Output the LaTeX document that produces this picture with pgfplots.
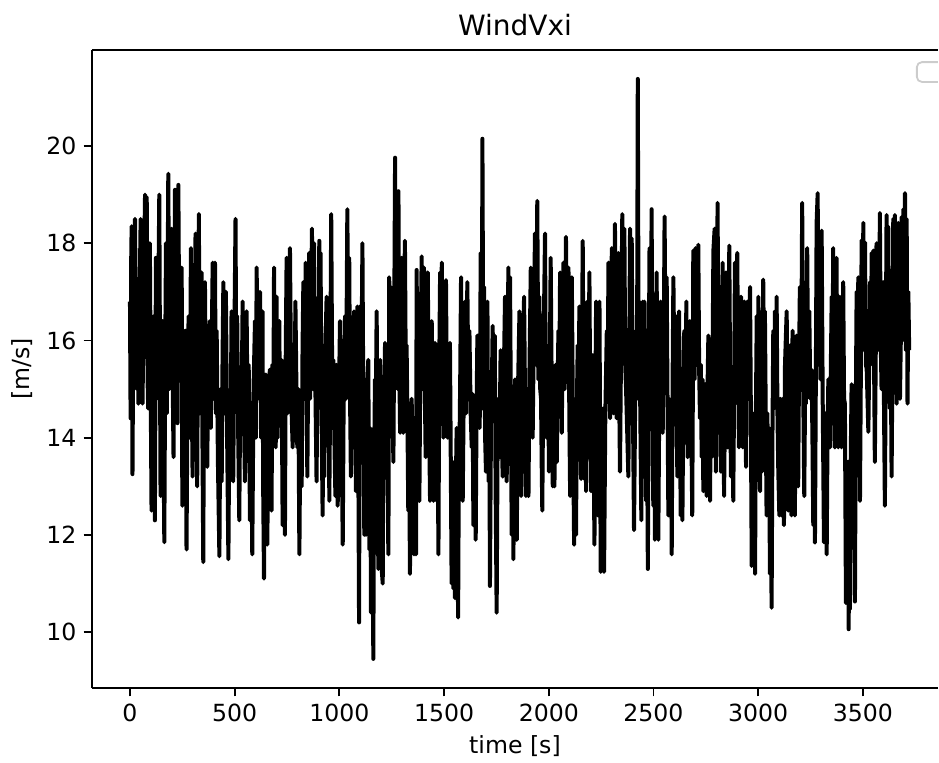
\documentclass[border=0pt]{standalone}
\usepackage{fontspec}
\setmainfont{DejaVu Sans}
\usepackage{pgfplots}
\pgfplotsset{compat=1.18}

\begin{document}
\begin{tikzpicture}
\begin{axis}[
    width=423pt, height=319pt, scale only axis,
    xmin=-181.5, xmax=3858.6,
    ymin=8.85, ymax=21.975,
    xtick={0,500,...,3500},
    ytick={10,12,...,20},
    axis lines*=left,
    axis line style={line width=0.96pt, -},
    tick align=outside,
    major tick length=4.2pt,
    every tick/.style={line width=0.96pt, black},
    tick label style={font=\fontsize{11.8}{14}\selectfont},
    /pgf/number format/assume math mode=true,
    /pgf/number format/1000 sep={},
    title={WindVxi},
    every axis title shift=0pt,
    title style={font=\fontsize{14}{17}\selectfont, at={(rel axis cs:0.5,1.0384)}, anchor=center},
    xlabel={time [s]},
    xlabel style={font=\fontsize{11.8}{14}\selectfont, at={(rel axis cs:0.5,-0.0905)}, anchor=center},
    ylabel={[m/s]},
    ylabel style={font=\fontsize{11.8}{14}\selectfont, at={(rel axis cs:-0.0827,0.5)}, anchor=center},
]
\coordinate (bbA) at (rel axis cs:-0.1087,-0.116);
\coordinate (bbB) at (rel axis cs:1.0012,1.0784);
\addplot[black, line width=2pt, line join=round, no markers] coordinates {
(0,16.8) (3,14.4) (6,17.7) (8,18.35) (12,13.25) (16,16.5) (20,15.0) (24,18.5) (30,15.5) (36,17.0)
(40,14.7) (45,16.6) (51,18.5) (56,15.8) (60,14.7) (66,17.2) (72,19.0) (76,16.0) (80,18.95) (84,15.2)
(87,14.6) (91,16.8) (95,18.0) (99,15.0) (103,12.5) (108,15.4) (113,16.5) (119,12.3) (124,17.7) (128,14.8)
(134,16.2) (140,19.0) (146,12.8) (151,15.6) (156,16.4) (160,14.0) (164,11.85) (168,15.5) (172,18.0) (176,14.5)
(183,19.43) (188,15.0) (193,17.0) (199,18.3) (204,15.2) (208,13.6) (212,16.5) (215,19.1) (219,15.0) (223,17.0)
(227,14.3) (231,19.2) (236,15.5) (241,16.8) (247,17.5) (250,12.6) (255,15.3) (262,13.5) (266,16.2) (270,11.7)
(275,15.0) (280,16.5) (286,14.0) (291,17.9) (295,15.0) (299,13.2) (304,16.0) (309,14.5) (313,18.2) (317,15.2)
(321,13.0) (325,16.3) (329,18.6) (333,14.5) (337,16.5) (342,17.4) (346,14.0) (350,11.44) (354,15.5) (358,17.2)
(363,14.6) (369,13.4) (375,16.0) (382,16.4) (386,14.2) (390,15.8) (395,17.6) (400,14.8) (406,17.6) (410,14.5)
(414,16.2) (420,13.5) (427,11.56) (432,15.0) (438,13.1) (442,15.6) (446,17.2) (452,14.5) (458,17.0) (464,14.0)
(470,11.5) (475,14.8) (480,13.5) (485,16.6) (489,14.5) (493,13.1) (498,15.8) (504,18.5) (508,15.0) (512,16.5)
(517,14.0) (522,12.3) (527,15.2) (532,14.2) (538,16.8) (543,14.8) (549,13.1) (553,15.4) (557,16.6) (562,14.2)
(567,15.5) (573,12.3) (578,14.5) (584,11.6) (590,15.0) (597,16.4) (601,14.0) (605,17.5) (610,14.8) (615,15.8)
(621,17.0) (626,14.0) (633,16.6) (636,13.0) (640,11.1) (645,15.0) (649,15.3) (653,13.5) (656,11.8) (661,14.8)
(668,15.4) (672,13.2) (676,12.5) (680,15.5) (684,14.0) (688,17.5) (692,14.8) (696,13.8) (700,16.9) (705,14.0)
(709,15.2) (713,16.4) (716,14.6) (719,14.3) (724,15.6) (729,12.2) (734,15.0) (740,12.0) (744,15.8) (748,17.7)
(752,14.5) (757,15.8) (764,17.9) (770,14.8) (777,13.8) (782,15.4) (786,14.6) (790,16.8) (795,15.0) (799,13.8)
(804,15.0) (809,11.6) (814,14.5) (820,13.0) (824,15.8) (828,17.2) (833,14.8) (839,17.6) (843,15.0) (847,13.2)
(852,16.0) (856,17.8) (860,14.8) (864,16.2) (869,18.3) (874,15.0) (879,18.0) (884,15.5) (891,13.1) (896,15.8)
(900,14.6) (904,18.05) (907,15.5) (910,17.8) (915,14.4) (920,12.4) (924,15.0) (928,13.2) (933,15.8) (939,16.9)
(944,14.5) (948,15.5) (952,12.7) (956,15.0) (961,18.6) (966,15.0) (971,15.6) (976,14.0) (981,12.8) (986,15.5)
(992,12.6) (997,14.6) (1003,16.4) (1008,14.8) (1012,13.5) (1016,11.8) (1020,14.5) (1027,16.5) (1032,14.8) (1038,18.7)
(1043,15.5) (1047,17.7) (1051,14.8) (1055,13.2) (1060,15.6) (1065,14.4) (1070,16.6) (1075,14.6) (1079,12.9) (1083,15.0)
(1086,16.7) (1090,14.0) (1094,10.2) (1098,16.7) (1103,14.5) (1106,15.8) (1110,18.0) (1115,14.2) (1119,12.0) (1123,14.8)
(1127,12.0) (1132,15.0) (1138,15.6) (1143,11.7) (1147,14.2) (1151,10.4) (1156,13.8) (1159,12.5) (1162,9.45) (1166,13.5)
(1170,15.2) (1174,14.6) (1178,16.6) (1182,14.0) (1186,11.3) (1190,14.5) (1195,15.6) (1199,13.0) (1202,11.3) (1207,11.0)
(1210,15.2) (1214,14.0) (1218,15.95) (1222,14.4) (1226,15.5) (1230,13.0) (1234,11.6) (1238,17.3) (1242,15.0) (1246,17.1)
(1250,16.0) (1254,14.5) (1258,13.5) (1262,16.5) (1266,19.76) (1270,15.5) (1274,16.2) (1278,15.0) (1282,19.07) (1286,15.5)
(1290,14.1) (1293,16.5) (1297,17.7) (1301,15.0) (1305,14.1) (1309,16.8) (1313,18.05) (1317,15.4) (1321,15.9) (1325,14.4)
(1329,12.5) (1333,14.0) (1337,11.2) (1341,14.0) (1345,14.8) (1350,13.8) (1356,11.6) (1360,14.3) (1366,11.6) (1369,17.45)
(1373,14.5) (1377,15.8) (1382,12.7) (1386,15.2) (1389,16.3) (1393,17.73) (1398,15.0) (1404,17.5) (1408,15.0) (1412,13.6)
(1416,15.5) (1422,17.4) (1428,14.5) (1433,12.7) (1437,15.0) (1441,16.4) (1445,14.6) (1449,12.7) (1453,14.8) (1457,15.95)
(1461,14.2) (1465,12.7) (1469,14.5) (1473,11.6) (1477,15.5) (1481,17.4) (1485,15.2) (1489,17.6) (1493,15.0) (1497,14.0)
(1502,15.5) (1509,17.24) (1513,15.0) (1517,14.0) (1522,15.6) (1528,15.95) (1532,13.5) (1536,11.0) (1540,13.0) (1544,10.9)
(1548,13.5) (1552,10.7) (1556,13.0) (1560,14.2) (1564,12.0) (1567,10.3) (1570,13.0) (1573,13.6) (1577,15.2) (1581,17.3)
(1585,14.0) (1589,12.7) (1594,15.0) (1600,16.8) (1605,14.5) (1611,17.2) (1616,15.0) (1621,16.2) (1627,14.5) (1632,13.8)
(1636,14.9) (1640,12.2) (1645,14.5) (1651,11.9) (1655,14.5) (1659,16.1) (1662,14.8) (1665,15.3) (1670,14.2) (1675,17.8)
(1680,14.6) (1683,20.15) (1687,15.5) (1691,17.1) (1696,14.0) (1700,13.3) (1704,15.5) (1707,16.8) (1710,14.0) (1713,13.1)
(1716,14.6) (1719,10.95) (1724,14.3) (1728,15.0) (1732,16.3) (1737,14.5) (1742,16.1) (1746,13.0) (1751,10.4) (1755,13.5)
(1759,14.8) (1764,13.6) (1770,15.8) (1775,14.0) (1780,13.2) (1785,15.2) (1791,16.9) (1795,14.8) (1799,13.1) (1803,15.5)
(1807,17.5) (1811,14.8) (1815,17.3) (1819,14.5) (1823,12.0) (1827,15.0) (1831,11.5) (1835,14.0) (1839,15.2) (1843,14.0)
(1847,11.9) (1853,15.0) (1860,16.6) (1864,14.5) (1868,12.8) (1874,15.2) (1882,16.9) (1887,14.6) (1891,12.8) (1897,15.0)
(1903,12.8) (1908,15.5) (1914,17.5) (1919,15.0) (1923,14.0) (1928,16.0) (1934,18.2) (1940,15.5) (1945,18.87) (1950,15.2)
(1955,16.9) (1959,15.0) (1963,14.8) (1966,13.5) (1969,12.5) (1974,15.5) (1982,18.2) (1986,15.0) (1990,14.0) (1996,15.5)
(2001,13.3) (2005,15.5) (2009,17.7) (2014,15.0) (2019,13.0) (2023,15.2) (2027,13.0) (2032,15.5) (2038,13.5) (2042,15.0)
(2046,16.2) (2050,15.0) (2054,17.4) (2058,15.0) (2062,14.1) (2066,16.0) (2070,17.6) (2076,15.0) (2082,18.13) (2088,15.5)
(2094,17.5) (2098,14.5) (2102,12.8) (2106,15.0) (2110,17.3) (2115,14.5) (2121,11.8) (2126,14.0) (2130,12.0) (2134,14.6)
(2138,15.9) (2142,14.5) (2146,16.7) (2150,14.8) (2154,13.15) (2158,15.5) (2162,18.05) (2166,15.0) (2170,13.15) (2174,15.2)
(2178,12.9) (2181,15.0) (2184,16.8) (2189,14.8) (2194,17.4) (2198,14.5) (2202,12.9) (2206,15.3) (2210,15.7) (2214,14.0)
(2218,11.8) (2222,14.5) (2226,16.8) (2230,14.2) (2234,12.4) (2238,14.5) (2242,16.8) (2245,14.0) (2248,11.24) (2253,13.5)
(2258,14.6) (2264,11.24) (2270,14.5) (2277,16.2) (2281,15.0) (2285,17.6) (2289,15.2) (2293,14.4) (2297,16.0) (2301,17.9)
(2305,15.0) (2309,14.5) (2313,16.5) (2316,18.4) (2320,15.0) (2324,14.4) (2328,16.2) (2332,17.8) (2336,15.0) (2340,13.3)
(2345,15.8) (2351,18.6) (2356,16.0) (2361,18.3) (2365,15.5) (2369,15.0) (2374,14.2) (2380,13.2) (2384,15.5) (2388,18.3)
(2392,15.8) (2396,18.1) (2401,15.0) (2407,12.1) (2412,14.5) (2417,16.2) (2421,14.8) (2425,21.38) (2429,15.5) (2433,16.8)
(2437,14.5) (2442,12.3) (2446,15.0) (2449,16.8) (2453,14.8) (2457,16.8) (2461,15.0) (2465,12.7) (2469,14.5) (2473,11.3)
(2477,15.0) (2481,17.9) (2486,14.5) (2491,18.7) (2495,15.0) (2499,12.6) (2503,14.5) (2507,11.9) (2511,15.0) (2515,17.4)
(2519,14.5) (2523,11.9) (2528,15.0) (2534,16.8) (2539,15.0) (2544,14.1) (2549,16.0) (2553,18.55) (2558,15.5) (2563,17.3)
(2567,14.8) (2571,12.4) (2575,14.8) (2579,13.6) (2583,14.5) (2587,11.6) (2591,15.0) (2595,17.3) (2600,15.2) (2606,16.5)
(2610,14.6) (2614,13.2) (2618,15.3) (2622,16.6) (2626,14.5) (2630,12.4) (2634,14.6) (2638,12.3) (2643,15.0) (2647,16.2)
(2652,14.8) (2657,16.8) (2660,14.8) (2663,13.6) (2668,15.3) (2674,16.4) (2680,14.6) (2685,12.4) (2688,15.0) (2690,17.85)
(2696,15.2) (2701,17.9) (2707,15.5) (2714,17.97) (2718,15.4) (2722,14.4) (2726,15.5) (2730,13.6) (2734,15.2) (2738,12.9)
(2742,15.0) (2746,15.1) (2750,14.0) (2754,12.8) (2758,15.0) (2762,16.1) (2766,14.5) (2770,12.7) (2774,15.0) (2778,13.6)
(2782,15.5) (2786,17.85) (2792,18.3) (2795,15.0) (2798,13.3) (2802,15.8) (2806,18.83) (2810,15.5) (2814,15.0) (2818,14.8)
(2822,13.3) (2826,15.5) (2830,17.6) (2834,15.0) (2837,12.8) (2842,15.0) (2846,17.4) (2850,15.0) (2854,13.8) (2858,15.8)
(2862,17.95) (2866,15.0) (2870,13.2) (2876,14.8) (2881,12.7) (2885,15.0) (2889,17.6) (2895,15.5) (2900,17.8) (2904,15.5)
(2908,13.8) (2913,15.2) (2918,16.9) (2922,14.8) (2926,13.8) (2930,15.2) (2934,16.8) (2938,14.8) (2942,13.4) (2945,15.5)
(2948,16.8) (2954,14.8) (2961,17.1) (2965,14.5) (2969,11.36) (2974,14.0) (2980,14.5) (2985,11.2) (2989,14.5) (2993,16.5)
(2997,15.0) (3001,16.9) (3005,14.8) (3009,12.9) (3013,15.0) (3018,13.3) (3021,15.5) (3024,17.25) (3028,15.5) (3032,16.6)
(3036,14.5) (3040,12.4) (3044,14.5) (3048,12.4) (3052,14.2) (3056,11.2) (3060,13.0) (3064,10.5) (3068,14.0) (3072,16.2)
(3076,14.6) (3080,16.6) (3084,14.8) (3088,16.9) (3092,14.5) (3096,13.3) (3101,12.4) (3106,14.8) (3112,12.4) (3117,14.8)
(3123,12.2) (3128,15.5) (3136,16.6) (3140,14.5) (3144,12.5) (3148,14.5) (3152,15.9) (3156,14.0) (3159,12.4) (3164,16.2)
(3169,14.5) (3175,12.4) (3179,14.8) (3183,16.1) (3187,14.4) (3191,13.0) (3195,15.5) (3199,17.1) (3205,15.0) (3210,18.83)
(3215,15.0) (3220,12.8) (3224,15.0) (3228,14.7) (3231,15.8) (3234,17.9) (3239,15.0) (3244,16.6) (3249,14.8) (3255,15.4)
(3259,14.0) (3263,12.2) (3267,14.5) (3271,11.84) (3275,15.0) (3279,18.42) (3284,19.03) (3288,15.5) (3292,17.6) (3297,15.2)
(3303,18.26) (3308,14.8) (3314,11.85) (3320,14.5) (3327,11.6) (3331,14.0) (3335,15.2) (3339,14.6) (3343,13.8) (3347,15.5)
(3351,16.9) (3355,15.2) (3358,17.9) (3362,15.0) (3366,13.8) (3370,15.5) (3374,17.7) (3378,15.0) (3382,13.8) (3386,15.5)
(3390,16.9) (3394,15.0) (3398,13.8) (3402,15.5) (3406,17.2) (3410,14.8) (3414,14.7) (3419,10.6) (3422,13.0) (3425,10.87)
(3428,13.5) (3432,10.06) (3435,12.5) (3438,10.47) (3442,13.6) (3446,15.1) (3450,14.0) (3454,12.4) (3458,14.0) (3462,10.63)
(3466,14.5) (3470,17.0) (3474,15.5) (3478,17.3) (3482,15.0) (3486,12.7) (3490,15.2) (3494,18.06) (3498,16.0) (3502,18.42)
(3506,15.8) (3510,18.02) (3514,15.5) (3518,15.42) (3522,14.8) (3526,14.12) (3530,15.5) (3534,17.2) (3538,15.8) (3542,17.8)
(3546,15.5) (3550,17.85) (3554,15.2) (3557,13.5) (3561,15.5) (3565,18.0) (3569,16.0) (3573,16.55) (3577,15.8) (3581,18.62)
(3585,16.0) (3589,15.0) (3593,16.5) (3597,17.2) (3601,14.5) (3605,12.6) (3609,15.5) (3613,18.58) (3617,16.0) (3621,18.34)
(3625,15.5) (3629,14.6) (3633,15.8) (3637,13.2) (3641,15.5) (3645,18.5) (3649,16.0) (3653,18.58) (3657,16.0) (3661,14.7)
(3665,16.5) (3669,18.42) (3673,15.8) (3677,14.8) (3681,16.0) (3685,18.54) (3689,16.0) (3693,18.7) (3697,16.5) (3701,19.03)
(3705,15.8) (3709,18.5) (3713,14.7) (3717,17.0) (3721,15.8)
};
% empty legend frame, cut by the right edge as in the original
\draw[gray!40, line width=0.9pt, rounded corners=2.5pt]
  (rel axis cs:0.975,0.950) rectangle (rel axis cs:1.010,0.981);
\end{axis}
% top spine (matplotlib draws it; the right one falls outside the picture)
\draw[line width=0.96pt] (current axis.north west) -- (current axis.north east);
\pgfresetboundingbox
\useasboundingbox (bbA) rectangle (bbB);
\end{tikzpicture}
\end{document}
